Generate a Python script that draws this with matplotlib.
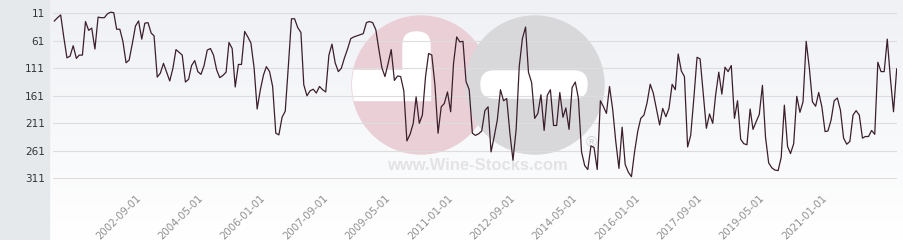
import numpy as np
import pandas as pd
import matplotlib
matplotlib.use("Agg")
import matplotlib.pyplot as plt
import matplotlib.dates as mdates
from matplotlib.patches import Rectangle, Circle, FancyBboxPatch

# monthly rank (lower is better), first point 2000-07
START = "2000-07-01"
rank = [
    25, 19, 14, 54, 92, 89, 70, 93, 87, 87, 26, 42, 38, 76, 18, 19, 19, 12, 9, 10,
    40, 40, 62, 101, 96, 66, 34, 25, 58, 29, 28, 47, 52, 127, 120, 102, 118, 134, 111, 77,
    82, 87, 136, 131, 106, 97, 117, 122, 106, 78, 75, 87, 114, 128, 124, 118, 64, 75, 145, 104,
    104, 44, 54, 65, 110, 185, 150, 123, 108, 117, 144, 229, 232, 200, 189, 108, 21, 21, 37, 46,
    141, 161, 152, 149, 156, 144, 150, 154, 87, 67, 101, 117, 111, 92, 76, 57, 54, 52, 50, 48,
    28, 26, 28, 41, 75, 110, 126, 102, 77, 133, 125, 126, 152, 243, 231, 211, 163, 211, 196, 126,
    84, 87, 142, 229, 181, 175, 154, 190, 102, 54, 63, 62, 135, 150, 229, 233, 230, 225, 188, 181,
    263, 235, 205, 150, 170, 166, 229, 278, 222, 108, 57, 36, 118, 137, 202, 193, 159, 224, 160, 150,
    215, 215, 155, 200, 183, 222, 146, 136, 165, 263, 288, 295, 252, 255, 295, 170, 180, 193, 144, 186,
    244, 293, 218, 286, 300, 308, 262, 225, 202, 196, 174, 140, 156, 185, 214, 184, 199, 184, 140, 150,
    85, 116, 126, 254, 233, 165, 91, 94, 158, 220, 194, 211, 160, 118, 158, 109, 117, 106, 202, 170,
    240, 248, 250, 185, 222, 208, 195, 142, 236, 283, 292, 296, 297, 273, 178, 253, 266, 248, 162, 191,
    172, 62, 111, 172, 180, 155, 181, 226, 225, 205, 170, 165, 187, 238, 249, 244, 196, 188, 196, 238,
    235, 235, 224, 231, 100, 117, 117, 58, 130, 190, 112,
]
y_ticks = [11, 61, 111, 161, 211, 261, 311]
x_tick_labels = ["2002-09-01", "2004-05-01", "2006-01-01", "2007-09-01", "2009-05-01",
                 "2011-01-01", "2012-09-01", "2014-05-01", "2016-01-01", "2017-09-01",
                 "2019-05-01", "2021-01-01"]

dates = pd.date_range(START, periods=len(rank), freq="MS")

W, H = 904, 240
fig = plt.figure(figsize=(W / 100, H / 100), dpi=100)

# background layer in pixel coordinates
bg = fig.add_axes([0, 0, 1, 1])
bg.set_xlim(0, W)
bg.set_ylim(H, 0)
bg.axis("off")
top = np.array([239, 241, 245]) / 255
bot = np.array([255, 255, 255]) / 255
t = np.linspace(0, 1, H)[:, None, None]
grad = top * (1 - t) + bot * t
bg.imshow(grad, extent=(0, W, H, 0), aspect="auto", zorder=0)
bg.add_patch(Rectangle((0, 0), 49, H, color="#e6e9ec", zorder=1))

# watermark
pink = Circle((421, 85), 69, color="#eacfd6", zorder=2)
grey = Circle((535, 85), 69, color="#d8d8db", zorder=3)
bg.add_patch(pink)
bg.add_patch(grey)
bar_v = FancyBboxPatch((403, 32), 27, 68, boxstyle="round,pad=0,rounding_size=13",
                       color="white", zorder=4)
bar_h = Rectangle((340, 70), 90, 30, color="white", zorder=4)
bg.add_patch(bar_v)
bg.add_patch(bar_h)
bar_h.set_clip_path(pink)
pill = FancyBboxPatch((481, 71), 106, 27, boxstyle="round,pad=0,rounding_size=13",
                      color="white", zorder=4)
bg.add_patch(pill)
bg.text(477, 165, "www.Wine-Stocks.com", ha="center", va="center", fontsize=12,
        fontweight="bold", family="Liberation Sans", color="#e3e3e6", zorder=4)
bg.text(591, 143, "®", ha="center", va="center", fontsize=11,
        family="Liberation Sans", color="#d2d2d5", zorder=4)

# chart
ax = fig.add_axes([53 / W, 52 / H, 844 / W, 185 / H])
ax.set_facecolor("none")
ax.plot(dates, rank, color="#3b1f2c", lw=0.9, zorder=3)

ax.set_ylim(328.6, -7.7)
ax.set_yticks(y_ticks)
ax.set_yticklabels([str(v) for v in y_ticks])
ax.yaxis.grid(True, color="#dddddd", lw=0.8, zorder=1)
ax.set_axisbelow(True)

x0 = mdates.date2num(dates[0])
x1 = mdates.date2num(dates[-1])
ax.set_xlim(x0 - 13, x1 + 3)
ax.set_xticks(pd.to_datetime(x_tick_labels))
ax.set_xticklabels(x_tick_labels, rotation=45, ha="right", rotation_mode="anchor",
                   fontsize=7.3, color="#8f8f8f")
ax.tick_params(axis="x", length=0, pad=3.6)
ax.tick_params(axis="y", length=0, pad=5.8, labelsize=7.5, labelcolor="#333333")

for s in ax.spines.values():
    s.set_visible(False)

fig.savefig("out.png", dpi=100)
